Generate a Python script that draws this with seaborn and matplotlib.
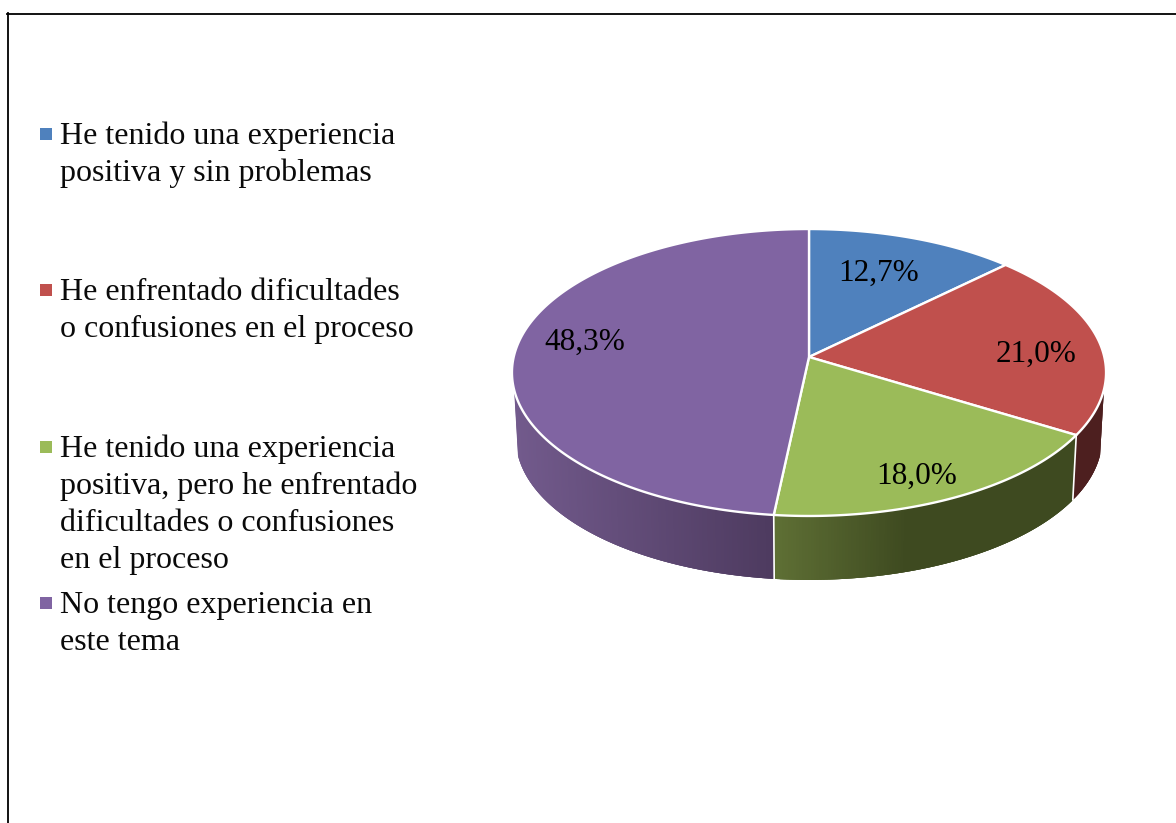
import matplotlib
matplotlib.use("Agg")

import matplotlib.pyplot as plt
import matplotlib.colors as mcolors
import numpy as np
import seaborn as sns

labels = [
    ["He tenido una experiencia", "positiva y sin problemas"],
    ["He enfrentado dificultades", "o confusiones en el proceso"],
    ["He tenido una experiencia", "positiva, pero he enfrentado", "dificultades o confusiones", "en el proceso"],
    ["No tengo experiencia en", "este tema"],
]
values = [12.7, 21.0, 18.0, 48.3]
value_labels = ["12,7%", "21,0%", "18,0%", "48,3%"]
colors = ["#4f81bd", "#c0504d", "#9bbb59", "#8064a2"]

# pie geometry in pixels, a circle seen in perspective
CX, CY = 809, 357
A, B, K = 295.3, 141.8, 0.108
DEPTH, SHRINK = 66, 0.987
VISIBLE = (103, 257)

# side wall shading: x position -> colour, per slice
wall_stops = {
    1: ([0, 1], ["#4d1f1f", "#4d1f1f"]),
    2: ([776, 910], ["#5f7035", "#3e4a20"]),
    3: ([516, 772], ["#725a8c", "#4e3b60"]),
}
label_pos = [(879, 273), (1036, 354), (917, 476), (585, 342)]
legend_baselines = [144.5, 300.5, 457.5, 613.5]
LINE_PITCH = 36.9


def project(theta, depth=0.0, scale=1.0):
    t = np.radians(theta)
    u, v = np.sin(t), np.cos(t)
    w = 1 + K * v
    return CX + scale * A * u / w, CY + depth - scale * B * v / w


sns.set_theme(style="white")
plt.rcParams["font.family"] = ["Liberation Serif", "DejaVu Serif"]

fig = plt.figure(figsize=(11.76, 8.23), dpi=100)
ax = fig.add_axes([7.5 / 1176, 0, 1 - 7.5 / 1176, 1 - 13.5 / 823])
ax.set_xlim(7.5, 1176)
ax.set_ylim(823, 13.5)
ax.set_xticks([])
ax.set_yticks([])

edges = np.concatenate([[0], np.cumsum(values)]) * 3.6

# side wall, strips overlap the next one so no seams show
for i, stops in wall_stops.items():
    start, end = max(edges[i], VISIBLE[0]), min(edges[i + 1], VISIBLE[1])
    rgb = np.array([mcolors.to_rgb(c) for c in stops[1]])
    angles = np.arange(end, start, -0.5)
    for a1 in angles:
        a0 = max(a1 - 1.5, start)
        x0, y0 = project(a0)
        x1, y1 = project(a1)
        x2, y2 = project(a1, DEPTH, SHRINK)
        x3, y3 = project(a0, DEPTH, SHRINK)
        shade = [np.interp((x0 + x1) / 2, stops[0], rgb[:, c]) for c in range(3)]
        ax.fill([x0, x1, x2, x3], [y0, y1, y2, y3], color=shade, lw=0, zorder=2)

# white seams between the wall segments
for edge in edges[2:4]:
    x0, y0 = project(edge)
    x1, y1 = project(edge, DEPTH, SHRINK)
    ax.plot([x0, x1], [y0, y1], color="white", lw=1.2, zorder=3)

# top face
for i, color in enumerate(colors):
    theta = np.linspace(edges[i], edges[i + 1], 200)
    x, y = project(theta)
    ax.fill(np.r_[CX, x], np.r_[CY, y], facecolor=color, edgecolor="white", lw=1.7, joinstyle="round", zorder=4)

for text, (x, y) in zip(value_labels, label_pos):
    ax.text(x, y, text, fontsize=22.5, color="black", ha="center", va="center", zorder=5)

# legend, entries are spaced by hand like the original
for lines, color, base in zip(labels, colors, legend_baselines):
    ax.scatter([46], [base - 10], marker="s", s=75, color=color, linewidths=0, zorder=5)
    for n, line in enumerate(lines):
        ax.text(60, base + n * LINE_PITCH, line, fontsize=23.05, color="#0a0a0a", ha="left", va="baseline")

sns.despine(ax=ax, left=False, top=False, right=True, bottom=True)
for side in ["left", "top"]:
    ax.spines[side].set_color("black")
    ax.spines[side].set_linewidth(1.3)

fig.savefig("out.png", dpi=100)
plt.close(fig)
